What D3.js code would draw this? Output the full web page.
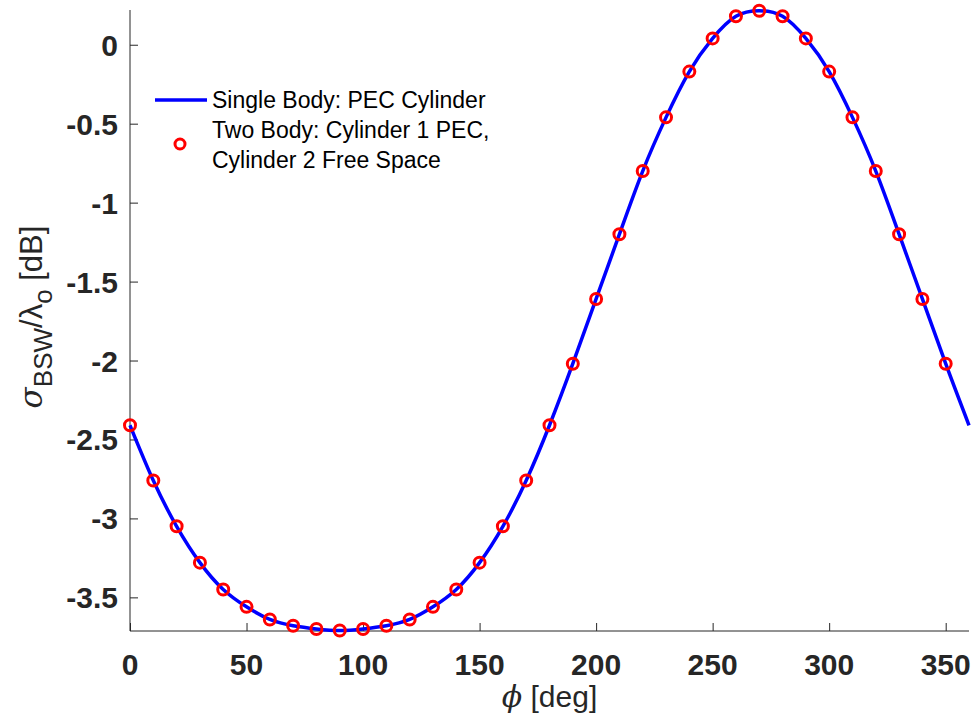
<!DOCTYPE html>
<html lang="en">
<head>
<meta charset="utf-8">
<title>Backscatter width vs phi</title>
<script src="https://cdn.jsdelivr.net/npm/d3@7"></script>
<style>
  body { margin: 0; background: #fff; }
  text { font-family: "Liberation Sans", Arial, sans-serif; }
</style>
</head>
<body>
<div id="chart"></div>
<script>
// angles (deg) of the sampled points
var phi = [0, 10, 20, 30, 40, 50, 60, 70, 80, 90, 100, 110, 120, 130, 140, 150, 160, 170,
           180, 190, 200, 210, 220, 230, 240, 250, 260, 270, 280, 290, 300, 310, 320, 330, 340, 350, 360];
// single body PEC cylinder, sigma/lambda in dB
var singleBody = [-2.41, -2.76, -3.05, -3.28, -3.45, -3.56, -3.64, -3.68, -3.70, -3.71, -3.70, -3.68,
                  -3.64, -3.56, -3.45, -3.28, -3.05, -2.76, -2.41, -2.02, -1.61, -1.20, -0.80, -0.46,
                  -0.17, 0.04, 0.18, 0.215, 0.18, 0.04, -0.17, -0.46, -0.80, -1.20, -1.61, -2.02, -2.41];
// two body markers (0..350)
var twoBody = [-2.41, -2.76, -3.05, -3.28, -3.45, -3.56, -3.64, -3.68, -3.70, -3.71, -3.70, -3.68,
               -3.64, -3.56, -3.45, -3.28, -3.05, -2.76, -2.41, -2.02, -1.61, -1.20, -0.80, -0.46,
               -0.17, 0.04, 0.18, 0.215, 0.18, 0.04, -0.17, -0.46, -0.80, -1.20, -1.61, -2.02];
var xTicks = [0, 50, 100, 150, 200, 250, 300, 350];
var yTicks = [0, -0.5, -1, -1.5, -2, -2.5, -3, -3.5];
var legendLabels = ["Single Body: PEC Cylinder", "Two Body: Cylinder 1 PEC,", "Cylinder 2 Free Space"];

var w = 974, h = 715;
var pLeft = 130, pRight = 969, pTop = 10, pBottom = 631;
var ink = "#262626";

var svg = d3.select("#chart").append("svg")
    .attr("width", w)
    .attr("height", h);

var x = d3.scaleLinear().domain([0, 360]).range([pLeft, pRight]);
var y = d3.scaleLinear().domain([-3.713, 0.22]).range([pBottom, pTop]);

// axes, ticks pointing inward like matlab
var xAxis = d3.axisTop(x).tickValues(xTicks).tickSize(8).tickFormat("");
var yAxis = d3.axisRight(y).tickValues(yTicks).tickSize(8).tickFormat("");

svg.append("g")
   .attr("transform", "translate(0," + pBottom + ")")
   .call(xAxis)
   .call(function(g) {
       g.select(".domain").attr("d", "M" + pLeft + ",0H" + pRight);
       g.selectAll("line").attr("stroke", ink);
       g.select(".domain").attr("stroke", ink);
   });
svg.append("g")
   .attr("transform", "translate(" + pLeft + ",0)")
   .call(yAxis)
   .call(function(g) {
       g.select(".domain").attr("d", "M0," + pTop + "V" + pBottom);
       g.selectAll("line").attr("stroke", ink);
       g.select(".domain").attr("stroke", ink);
   });

// tick labels
svg.append("g").selectAll("text")
   .data(xTicks).enter().append("text")
   .attr("x", function(d) { return x(d); })
   .attr("y", 675)
   .attr("text-anchor", "middle")
   .attr("font-size", 30)
   .attr("font-weight", "bold")
   .attr("fill", ink)
   .text(function(d) { return d; });
svg.append("g").selectAll("text")
   .data(yTicks).enter().append("text")
   .attr("x", 118)
   .attr("y", function(d) { return y(d) + 11; })
   .attr("text-anchor", "end")
   .attr("font-size", 30)
   .attr("font-weight", "bold")
   .attr("fill", ink)
   .text(function(d) { return d; });

// axis titles
var xl = svg.append("text")
   .attr("x", (pLeft + pRight) / 2)
   .attr("y", 707)
   .attr("text-anchor", "middle")
   .attr("font-size", 30)
   .attr("fill", ink);
xl.append("tspan").attr("font-style", "italic").attr("font-family", "DejaVu Serif").text("\u03d5");
xl.append("tspan").text(" [deg]");

var yl = svg.append("text")
   .attr("transform", "translate(42,317) rotate(-90)")
   .attr("text-anchor", "middle")
   .attr("font-size", 31)
   .attr("fill", ink);
yl.append("tspan").attr("font-style", "italic").attr("font-family", "DejaVu Serif").text("\u03c3");
yl.append("tspan").attr("font-size", 26).attr("dy", 10).text("BSW");
yl.append("tspan").attr("dy", -10).text("/\u03bb");
yl.append("tspan").attr("font-size", 26).attr("dy", 10).text("o");
yl.append("tspan").attr("dy", -10).text(" [dB]");

// curve
var line = d3.line()
    .x(function(d, i) { return x(phi[i]); })
    .y(function(d) { return y(d); })
    .curve(d3.curveNatural);
svg.append("path")
   .datum(singleBody)
   .attr("d", line)
   .attr("fill", "none")
   .attr("stroke", "#0000ff")
   .attr("stroke-width", 3.5);

// markers
svg.append("g").selectAll("circle")
   .data(twoBody).enter().append("circle")
   .attr("cx", function(d, i) { return x(phi[i]); })
   .attr("cy", function(d) { return y(d); })
   .attr("r", 5.5)
   .attr("fill", "none")
   .attr("stroke", "#ff0000")
   .attr("stroke-width", 3);

// legend
var lg = svg.append("g");
lg.append("line")
  .attr("x1", 155).attr("x2", 207).attr("y1", 100).attr("y2", 100)
  .attr("stroke", "#0000ff").attr("stroke-width", 3.5);
lg.append("circle")
  .attr("cx", 180).attr("cy", 144).attr("r", 5)
  .attr("fill", "none").attr("stroke", "#ff0000").attr("stroke-width", 3);
lg.selectAll("text")
  .data(legendLabels).enter().append("text")
  .attr("x", 212)
  .attr("y", function(d, i) { return 108 + i * 30; })
  .attr("font-size", 23)
  .attr("fill", "#000")
  .text(function(d) { return d; });
</script>
</body>
</html>
